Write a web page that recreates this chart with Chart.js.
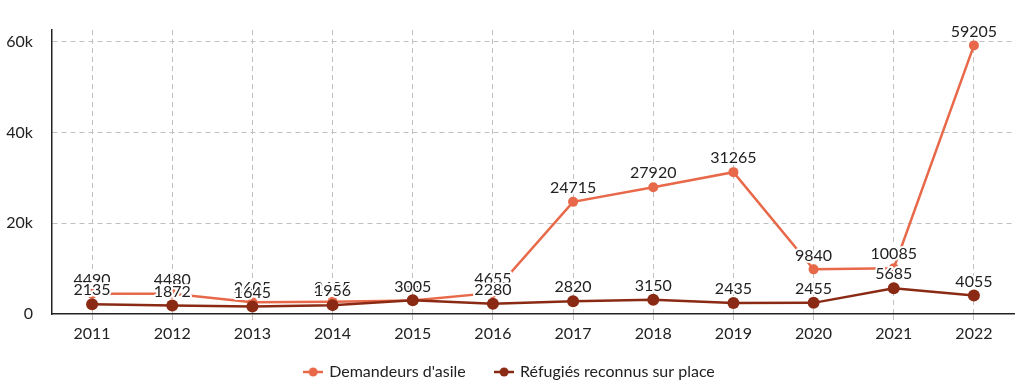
<!DOCTYPE html>
<html>
<head>
<meta charset="utf-8">
<script src="https://cdn.jsdelivr.net/npm/chart.js@4"></script>
<style>
  html, body { margin: 0; padding: 0; background: #fff; }
  #wrap { width: 1024px; height: 390px; }
</style>
</head>
<body>
<div id="wrap"><canvas id="chart"></canvas></div>
<script>
// Data
const years = ['2011', '2012', '2013', '2014', '2015', '2016', '2017', '2018', '2019', '2020', '2021', '2022'];
const demandeurs = [4490, 4480, 2605, 2685, 2990, 4655, 24715, 27920, 31265, 9840, 10085, 59205];
const refugies = [2135, 1872, 1645, 1956, 3005, 2280, 2820, 3150, 2435, 2455, 5685, 4055];
const yTicks = [0, 20000, 40000, 60000];

const ORANGE = '#e8694a';
const DARK = '#8a2a14';

// legend marker: short line with a dot
function legendMarker(color) {
    const c = document.createElement('canvas');
    c.width = 20;
    c.height = 12;
    const ctx = c.getContext('2d');
    ctx.strokeStyle = color;
    ctx.lineWidth = 2.5;
    ctx.beginPath();
    ctx.moveTo(0, 6);
    ctx.lineTo(20, 6);
    ctx.stroke();
    ctx.fillStyle = color;
    ctx.beginPath();
    ctx.arc(10, 6, 4.5, 0, Math.PI * 2);
    ctx.fill();
    return c;
}

// value labels above points, white halo
const valueLabels = {
    id: 'valueLabels',
    afterDatasetsDraw(chart) {
        const ctx = chart.ctx;
        ctx.save();
        ctx.font = '16px Lato';
        ctx.textAlign = 'center';
        ctx.textBaseline = 'bottom';
        ctx.lineJoin = 'round';
        // orange labels first, dark labels on top
        [0, 1].forEach(i => {
            const meta = chart.getDatasetMeta(i);
            const data = chart.data.datasets[i].data;
            meta.data.forEach((pt, j) => {
                const txt = String(data[j]);
                ctx.strokeStyle = '#fff';
                ctx.lineWidth = 4;
                ctx.strokeText(txt, pt.x, pt.y - 6);
                ctx.fillStyle = '#222';
                ctx.fillText(txt, pt.x, pt.y - 6);
            });
        });
        ctx.restore();
    }
};

const ctx = document.getElementById('chart').getContext('2d');
new Chart(ctx, {
    type: 'line',
    data: {
        labels: years,
        datasets: [{
            label: "Demandeurs d'asile",
            data: demandeurs,
            borderColor: ORANGE,
            backgroundColor: ORANGE,
            borderWidth: 2.5,
            pointRadius: 5,
            pointBorderWidth: 0,
            order: 2
        }, {
            label: 'Réfugiés reconnus sur place',
            data: refugies,
            borderColor: DARK,
            backgroundColor: DARK,
            borderWidth: 2.5,
            pointRadius: 6,
            pointBorderWidth: 0,
            order: 1
        }]
    },
    options: {
        responsive: true,
        maintainAspectRatio: false,
        animation: false,
        layout: {
            padding: { left: 6, right: 10, top: 30, bottom: 0 }
        },
        plugins: {
            tooltip: { enabled: false },
            legend: {
                position: 'bottom',
                labels: {
                    font: { family: 'Lato', size: 16 },
                    color: '#222',
                    padding: 18,
                    boxWidth: 20,
                    usePointStyle: true,
                    generateLabels: function(chart) {
                        const n = chart.data.datasets.length;
                        return chart.data.datasets.map((ds, i) => ({
                            // a little extra room between the two items
                            text: i < n - 1 ? ds.label + '   ' : ds.label,
                            pointStyle: legendMarker(ds.borderColor),
                            fillStyle: ds.borderColor,
                            strokeStyle: ds.borderColor,
                            lineWidth: 0,
                            hidden: false,
                            datasetIndex: i,
                            fontColor: '#222'
                        }));
                    }
                }
            }
        },
        scales: {
            x: {
                offset: true,
                border: { display: true, color: '#222', width: 1.5, dash: [5, 4] },
                grid: {
                    color: '#c0c0c0',
                    lineWidth: 1,
                    offset: false,
                    drawTicks: true,
                    tickLength: 6,
                    tickColor: '#c0c0c0'
                },
                ticks: {
                    font: { family: 'Lato', size: 16 },
                    color: '#222',
                    padding: 4
                },
                afterFit: function(scale) {
                    scale.height = 32;
                }
            },
            y: {
                min: 0,
                max: 62600,
                border: { display: true, color: '#222', width: 1.5, dash: [5, 4] },
                grid: {
                    color: function(c) {
                        return c.tick && c.tick.value === 0 ? 'rgba(0,0,0,0)' : '#c0c0c0';
                    },
                    drawTicks: false
                },
                afterBuildTicks: function(scale) {
                    scale.ticks = yTicks.map(v => ({ value: v }));
                },
                afterFit: function(scale) {
                    scale.width = 46;
                },
                ticks: {
                    font: { family: 'Lato', size: 16 },
                    color: '#222',
                    padding: 19,
                    callback: function(v) {
                        return v === 0 ? '0' : (v / 1000) + 'k';
                    }
                }
            }
        }
    },
    plugins: [valueLabels]
});
</script>
</body>
</html>
